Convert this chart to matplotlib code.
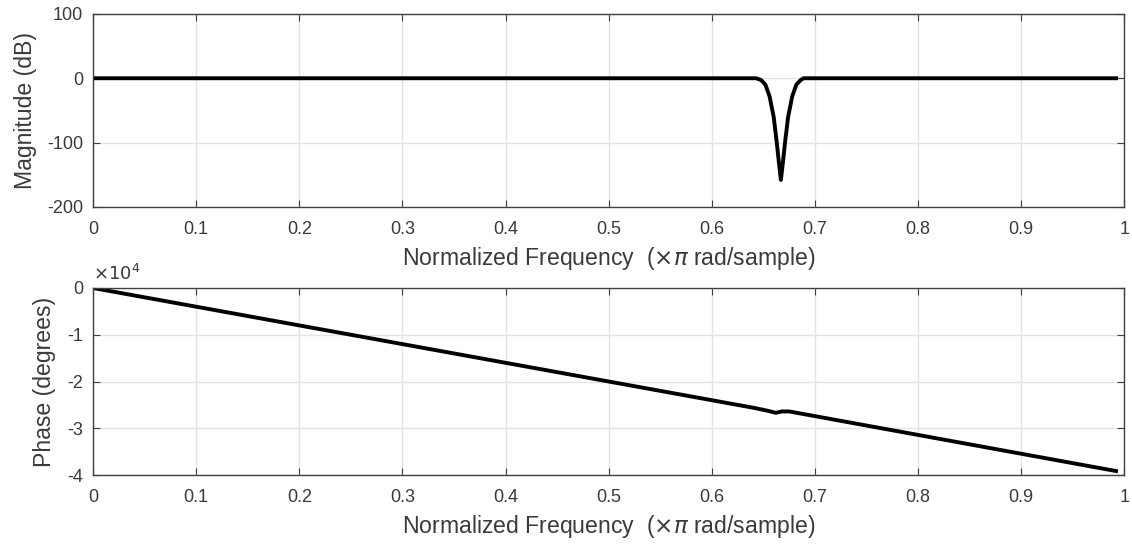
import matplotlib.pyplot as plt

plt.rcParams['font.family'] = ['Liberation Sans', 'DejaVu Sans']
plt.rcParams['axes.unicode_minus'] = False

# magnitude response (dB), read at breakpoints along the notch
MAG_FREQ = [0.0, 0.643, 0.648, 0.652, 0.656, 0.660, 0.663, 0.665, 0.667,
            0.669, 0.671, 0.674, 0.678, 0.682, 0.686, 0.689, 0.992]
MAG_DB = [0, 0, -3, -10, -28, -60, -100, -130, -158,
          -130, -100, -60, -28, -10, -3, 0, 0]

# phase response, in units of 1e4 degrees
PHASE_FREQ = [0.0, 0.5, 0.64, 0.655, 0.662, 0.668, 0.675, 0.992]
PHASE_E4 = [0, -2.0, -2.56, -2.63, -2.67, -2.64, -2.64, -3.915]

XTICKS = [0, 0.1, 0.2, 0.3, 0.4, 0.5, 0.6, 0.7, 0.8, 0.9, 1]
XTICKLABELS = ['0', '0.1', '0.2', '0.3', '0.4', '0.5', '0.6', '0.7', '0.8', '0.9', '1']
MAG_TICKS = [-200, -100, 0, 100]
PHASE_TICKS = [-4, -3, -2, -1, 0]
XLABEL = 'Normalized Frequency  ($\\times\\pi$ rad/sample)'

TXT = '#3a3a3a'
SPINE = '#404040'
GRID = '#e3e3e3'
TICK_FS = 13
LABEL_FS = 16.6


def style_axes(ax):
    ax.set_xlim(0, 1)
    ax.set_xticks(XTICKS)
    ax.set_xticklabels(XTICKLABELS)
    ax.grid(True, color=GRID, linewidth=1.0)
    ax.set_axisbelow(True)
    for s in ax.spines.values():
        s.set_color(SPINE)
        s.set_linewidth(1.0)
    ax.tick_params(direction='in', top=True, right=True, length=5,
                   color=SPINE, labelcolor=TXT, labelsize=TICK_FS, pad=7)
    ax.tick_params(axis='x', pad=10)
    ax.set_xlabel(XLABEL, fontsize=LABEL_FS, color=TXT, labelpad=5)


fig = plt.figure(figsize=(11.32, 5.44), dpi=100)
ax1 = fig.add_axes([0.0822, 0.6195, 0.911, 0.355])
ax2 = fig.add_axes([0.0822, 0.1268, 0.911, 0.3438])

ax1.plot(MAG_FREQ, MAG_DB, color='black', linewidth=2.8)
ax1.set_ylim(-200, 100)
ax1.set_yticks(MAG_TICKS)
ax1.set_yticklabels([str(v) for v in MAG_TICKS])
style_axes(ax1)
ax1.set_ylabel('Magnitude (dB)', fontsize=LABEL_FS, color=TXT, labelpad=7)

ax2.plot(PHASE_FREQ, PHASE_E4, color='black', linewidth=2.8)
ax2.set_ylim(-4, 0)
ax2.set_yticks(PHASE_TICKS)
ax2.set_yticklabels([str(v) for v in PHASE_TICKS])
style_axes(ax2)
ax2.set_ylabel('Phase (degrees)', fontsize=LABEL_FS, color=TXT, labelpad=8)
ax2.text(0.0, 1.02, '$\\times10^{4}$', transform=ax2.transAxes,
         fontsize=TICK_FS, color=TXT, ha='left', va='bottom')

fig.savefig('out.png', dpi=100, facecolor='white')
